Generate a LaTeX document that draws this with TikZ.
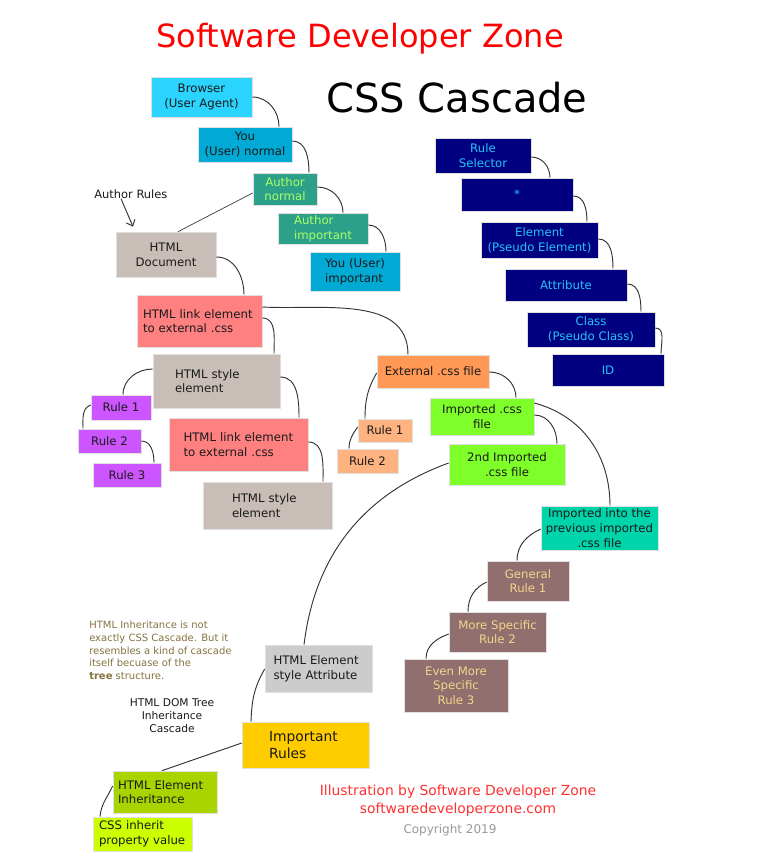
\documentclass[tikz,border=0pt]{standalone}
\usepackage{fontspec}
\setmainfont{DejaVu Sans}
\usetikzlibrary{arrows.meta,calc}
\definecolor{cBrowser}{HTML}{2AD4FF}
\definecolor{cYou}{HTML}{00AAD4}
\definecolor{cAuthor}{HTML}{2CA089}
\definecolor{cAuthorTxt}{HTML}{AAFF66}
\definecolor{cBeige}{HTML}{C8BEB7}
\definecolor{cLink}{HTML}{FF8080}
\definecolor{cPurple}{HTML}{CC55FF}
\definecolor{cExt}{HTML}{FF9955}
\definecolor{cOrLight}{HTML}{FFB380}
\definecolor{cGreen}{HTML}{7FFF2A}
\definecolor{cTeal}{HTML}{00D4AA}
\definecolor{cBrown}{HTML}{916F6F}
\definecolor{cBrownTxt}{HTML}{F2D68A}
\definecolor{cNavy}{HTML}{000080}
\definecolor{cNavyTxt}{HTML}{22C5F5}
\definecolor{cGray}{HTML}{CCCCCC}
\definecolor{cImportant}{HTML}{FFCC00}
\definecolor{cInherit}{HTML}{AAD400}
\definecolor{cCss}{HTML}{CCFF00}
\definecolor{cNote}{HTML}{857440}
\definecolor{cTitle}{HTML}{FF0000}
\definecolor{cFoot}{HTML}{FF3030}
\definecolor{cCopy}{HTML}{999999}
\definecolor{cTxt}{HTML}{1A1A1A}
\definecolor{cLine}{HTML}{333333}
\begin{document}
\begin{tikzpicture}[x=0.75pt,y=0.75pt,
  box/.style={rectangle, draw=black!12, line width=0.5pt, inner sep=0pt, align=center,
    text=cTxt, font=\fontsize{8.8}{11}\selectfont},
  sz/.style 2 args={minimum width=#1*0.75pt, minimum height=#2*0.75pt},
  lft/.style={align=left, text width=#1*0.75pt},
  conn/.style={draw=cLine, line width=0.7pt},
  lbl/.style={inner sep=0pt}
]
\useasboundingbox (0,0) rectangle (769,-864);
\fill[white] (0,0) rectangle (769,-864);

% titles
\node[lbl, anchor=base, text=cTitle, font=\fontsize{24}{28}\selectfont] (title) at (360,-47) {Software Developer Zone};
\node[lbl, anchor=base, text=black, font=\fontsize{30}{34}\selectfont] (css) at (457,-112) {CSS Cascade};

% left cascade
\node[box, sz={101}{40}, fill=cBrowser] (browser) at (201.5,-97) {Browser\\(User Agent)};
\node[box, sz={94}{35}, fill=cYou] (younorm) at (245,-144.5) {You\\(User) normal};
\node[box, sz={64}{32}, fill=cAuthor, text=cAuthorTxt] (authnorm) at (285,-189) {Author\\normal};
\node[box, sz={90}{31}, fill=cAuthor, text=cAuthorTxt, align=left] (authimp) at (323,-228.5) {Author\\important};
\node[box, sz={90}{39}, fill=cYou, align=left] (youimp) at (355,-271.5) {You (User)\\important};
\node[box, sz={100}{45}, fill=cBeige] (htmldoc) at (166,-254.5) {HTML\\Document};
\node[box, sz={125}{52}, fill=cLink, lft=113] (linkA) at (199.5,-321) {HTML link element\\to external .css};
\node[box, sz={127}{54}, fill=cBeige, lft=83] (styleA) at (216.5,-381) {HTML style\\element};
\node[box, sz={60}{25}, fill=cPurple] (r1) at (121,-407.5) {Rule 1};
\node[box, sz={63}{24}, fill=cPurple] (r2) at (109.5,-441) {Rule 2};
\node[box, sz={68}{24}, fill=cPurple] (r3) at (127,-475) {Rule 3};
\node[box, sz={139}{53}, fill=cLink, lft=110] (linkB) at (238.5,-444.5) {HTML link element\\to external .css};
\node[box, sz={129}{47}, fill=cBeige, lft=71] (styleB) at (267.5,-505.5) {HTML style\\element};

% external css
\node[box, sz={112}{33}, fill=cExt] (ext) at (433,-371.5) {External .css file};
\node[box, sz={54}{23}, fill=cOrLight] (or1) at (385,-430.5) {Rule 1};
\node[box, sz={61}{24}, fill=cOrLight] (or2) at (367.5,-461) {Rule 2};
\node[box, sz={104}{37}, fill=cGreen] (imp) at (482,-416.5) {Imported .css\\file};
\node[box, sz={116}{41}, fill=cGreen] (imp2) at (507,-464.5) {2nd Imported\\.css file};
\node[box, sz={117}{44}, fill=cTeal] (impinto) at (599.5,-528) {Imported into the\\previous imported\\.css file};
\node[box, sz={82}{40}, fill=cBrown, text=cBrownTxt] (gen) at (528,-581) {General\\Rule 1};
\node[box, sz={97}{40}, fill=cBrown, text=cBrownTxt] (more) at (497.5,-632) {More Specific\\Rule 2};
\node[box, sz={104}{53}, fill=cBrown, text=cBrownTxt] (even) at (456,-685.5) {Even More\\Specific\\Rule 3};

% selector cascade
\node[box, sz={96}{35}, fill=cNavy, text=cNavyTxt] (rulesel) at (483,-155.5) {Rule\\Selector};
\node[box, sz={112}{33}, fill=cNavy, text=cNavyTxt] (star) at (517,-194.5) {*};
\node[box, sz={117}{36}, fill=cNavy, text=cNavyTxt] (elem) at (539.5,-240) {Element\\(Pseudo Element)};
\node[box, sz={122}{32}, fill=cNavy, text=cNavyTxt] (attr) at (566,-285) {Attribute};
\node[box, sz={128}{35}, fill=cNavy, text=cNavyTxt] (cls) at (591,-329.5) {Class\\(Pseudo Class)};
\node[box, sz={112}{32}, fill=cNavy, text=cNavyTxt] (id) at (608,-370) {ID};

% bottom left
\node[box, sz={107}{47}, fill=cGray, lft=90] (styleattr) at (318.5,-668.5) {HTML Element\\style Attribute};
\node[box, sz={127}{46}, fill=cImportant, lft=73, font=\fontsize{10.4}{12.8}\selectfont] (important) at (305.5,-745) {Important\\Rules};
\node[box, sz={104}{42}, fill=cInherit, lft=94] (inherit) at (165,-792) {HTML Element\\Inheritance};
\node[box, sz={99}{34}, fill=cCss, lft=87] (cssinh) at (142.5,-834) {CSS inherit\\property value};

% labels
\node[lbl, anchor=west, text=cTxt, font=\fontsize{8.6}{10.5}\selectfont] (authrules) at (94,-194) {Author Rules};
\node[lbl, anchor=north west, align=left, text=cNote, font=\fontsize{7.5}{9.5}\selectfont] (note) at (89,-621)
  {HTML Inheritance is not\\exactly CSS Cascade. But it\\resembles a kind of cascade\\itself becuase of the\\\textbf{tree} structure.};
\node[lbl, anchor=north, align=center, text=cTxt, font=\fontsize{8}{10}\selectfont] (domtree) at (172,-698)
  {HTML DOM Tree\\Inheritance\\Cascade};
\node[lbl, anchor=base, text=cFoot, font=\fontsize{10.4}{13}\selectfont] (foot1) at (458,-795) {Illustration by Software Developer Zone};
\node[lbl, anchor=base, text=cFoot, font=\fontsize{10.4}{13}\selectfont] (foot2) at (458,-813) {softwaredeveloperzone.com};
\node[lbl, anchor=base, text=cCopy, font=\fontsize{9}{11}\selectfont] (copy) at (450,-833) {Copyright 2019};

% connectors: left cascade
\draw[conn] (browser.east) to[out=0,in=90] (younorm.north -| 279,0);
\draw[conn] (younorm.east |- 0,-141) to[out=0,in=90] (authnorm.north -| 309,0);
\draw[conn] (authnorm.east |- 0,-187) to[out=0,in=90] (authimp.north -| 343,0);
\draw[conn] (authimp.east |- 0,-225) to[out=0,in=90] (youimp.north -| 386,0);
\draw[conn, line width=0.5pt] (authnorm.west |- 0,-193) -- (htmldoc.north -| 178,0);
\draw[conn, -{Straight Barb[length=4pt,width=7pt]}] (authrules.south -| 121,0) -- ($(htmldoc.north -| 133,0)+(0,5)$);
\draw[conn] (htmldoc.east |- 0,-257) to[out=0,in=90] (linkA.north -| 244,0);
\draw[conn] (linkA.east |- 0,-318) to[out=0,in=90] (styleA.north -| 274,0);
\draw[conn] (styleA.west |- 0,-369) to[out=180,in=90] (r1.north -| 123,0);
\draw[conn] (r1.west |- 0,-405) to[out=200,in=90] (r2.north -| 83,0);
\draw[conn] (r2.east |- 0,-441) to[out=0,in=90] (r3.north -| 154,0);
\draw[conn] (styleA.east |- 0,-377) to[out=0,in=90] (linkB.north -| 299,0);
\draw[conn] (linkB.east |- 0,-442) to[out=0,in=90] (styleB.north -| 323,0);

% external css
\draw[conn] (linkA.east |- 0,-307) to[out=-3,in=90] (ext.north -| 408,0);
\draw[conn] (ext.west |- 0,-373) to[out=240,in=90] (or1.north -| 365,0);
\draw[conn] (or1.west |- 0,-427) to[out=235,in=90] (or2.north -| 349,0);
\draw[conn] (ext.east |- 0,-372) to[out=0,in=90] (imp.north -| 516,0);
\draw[conn] (imp.east |- 0,-415) to[out=0,in=90] (imp2.north -| 557,0);
\draw[conn] (imp.east |- 0,-403) to[out=-15,in=90] (impinto.north -| 610,0);
\draw[conn] (impinto.west |- 0,-529) to[out=205,in=90] (gen.north -| 517,0);
\draw[conn] (gen.west |- 0,-582) to[out=205,in=90] (more.north -| 468,0);
\draw[conn] (more.west |- 0,-634) to[out=200,in=90] (even.north -| 426,0);
\draw[conn] (imp2.west |- 0,-463) to[out=200,in=83] (styleattr.north -| 304,0);

% selector cascade
\draw[conn] (rulesel.east |- 0,-157) to[out=0,in=90] (star.north -| 550,0);
\draw[conn] (star.east |- 0,-196) to[out=0,in=90] (elem.north -| 587,0);
\draw[conn] (elem.east |- 0,-239) to[out=0,in=90] (attr.north -| 613,0);
\draw[conn] (attr.east |- 0,-284) to[out=0,in=90] (cls.north -| 641,0);
\draw[conn] (cls.east |- 0,-328) to[out=0,in=90] (id.north -| 661,0);

% bottom left
\draw[conn] (styleattr.west |- 0,-669) to[out=240,in=88] (important.north -| 251,0);
\draw[conn] (important.west |- 0,-743) -- (inherit.north -| 162,0);
\draw[conn] (inherit.west |- 0,-786) to[out=245,in=85] (cssinh.north -| 100,0);
\end{tikzpicture}
\end{document}
